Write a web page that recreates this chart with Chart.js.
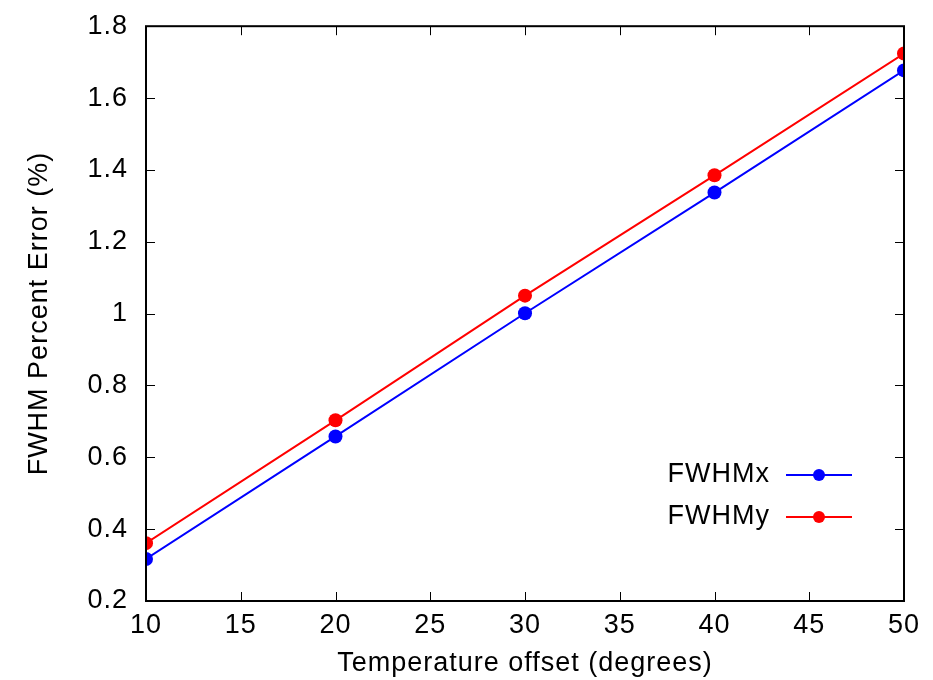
<!DOCTYPE html>
<html>
<head>
<meta charset="utf-8">
<script src="https://cdn.jsdelivr.net/npm/chart.js@4/dist/chart.umd.min.js"></script>
<style>
  html, body { margin: 0; padding: 0; background: #fff; }
  #wrap { width: 933px; height: 680px; }
</style>
</head>
<body>
<div id="wrap"><canvas id="fwhmChart" width="933" height="680"></canvas></div>
<script>
// temperature offsets and the FWHM errors measured at each one
const offsets = [10, 20, 30, 40, 50];
const fwhmX = [0.317, 0.658, 1.001, 1.337, 1.677];
const fwhmY = [0.361, 0.703, 1.050, 1.385, 1.724];
const xTicks = [10, 15, 20, 25, 30, 35, 40, 45, 50];
const yTicks = [0.2, 0.4, 0.6, 0.8, 1, 1.2, 1.4, 1.6, 1.8];

const FONT = 'Liberation Sans, Arial, sans-serif';

// slightly wider letter spacing, like the old gnuplot png fonts
const spacing = {
    id: 'spacing',
    beforeDraw(chart) { chart.ctx.letterSpacing = '1px'; }
};

// box round the plot with small inward ticks on all four sides
const frame = {
    id: 'frame',
    afterDatasetsDraw(chart) {
        const ctx = chart.ctx;
        const a = chart.chartArea;
        const xs = chart.scales.x, ys = chart.scales.y;
        const len = 9;
        ctx.save();
        ctx.strokeStyle = '#000';
        ctx.lineWidth = 1;
        ctx.beginPath();
        xTicks.forEach(v => {
            const px = Math.round(xs.getPixelForValue(v)) + 0.5;
            ctx.moveTo(px, a.bottom); ctx.lineTo(px, a.bottom - len);
            ctx.moveTo(px, a.top); ctx.lineTo(px, a.top + len);
        });
        yTicks.forEach(v => {
            const py = Math.round(ys.getPixelForValue(v)) + 0.5;
            ctx.moveTo(a.left, py); ctx.lineTo(a.left + len, py);
            ctx.moveTo(a.right, py); ctx.lineTo(a.right - len, py);
        });
        ctx.stroke();
        ctx.lineWidth = 2;
        ctx.strokeRect(a.left, a.top, a.right - a.left, a.bottom - a.top);
        ctx.restore();
    }
};

// gnuplot-like key: title on the left, line sample with marker on the right
const key = {
    id: 'key',
    afterDraw(chart) {
        const ctx = chart.ctx;
        const a = chart.chartArea;
        const textRight = a.right - 134;
        const x0 = a.right - 118, x1 = a.right - 52;
        ctx.save();
        ctx.font = '27px ' + FONT;
        ctx.textAlign = 'right';
        ctx.textBaseline = 'middle';
        chart.data.datasets.forEach((ds, i) => {
            const y = a.bottom - 126 + i * 42;
            ctx.fillStyle = '#000';
            ctx.fillText(ds.label, textRight, y);
            ctx.strokeStyle = ds.borderColor;
            ctx.lineWidth = 2;
            ctx.beginPath();
            ctx.moveTo(x0, y); ctx.lineTo(x1, y);
            ctx.stroke();
            ctx.fillStyle = ds.backgroundColor;
            ctx.beginPath();
            ctx.arc((x0 + x1) / 2, y, 6, 0, Math.PI * 2);
            ctx.fill();
        });
        ctx.restore();
    }
};

const ctx = document.getElementById('fwhmChart').getContext('2d');
new Chart(ctx, {
    type: 'line',
    data: {
        datasets: [
            {
                label: 'FWHMx',
                data: offsets.map((t, i) => ({ x: t, y: fwhmX[i] })),
                borderColor: '#0000ff',
                backgroundColor: '#0000ff',
                borderWidth: 2,
                pointRadius: 7,
                pointBorderWidth: 0,
                fill: false,
                tension: 0
            },
            {
                label: 'FWHMy',
                data: offsets.map((t, i) => ({ x: t, y: fwhmY[i] })),
                borderColor: '#ff0000',
                backgroundColor: '#ff0000',
                borderWidth: 2,
                pointRadius: 7,
                pointBorderWidth: 0,
                fill: false,
                tension: 0
            }
        ]
    },
    options: {
        responsive: false,
        animation: false,
        layout: { padding: { top: 4, right: 29, left: 0, bottom: 0 } },
        plugins: { legend: { display: false }, tooltip: { enabled: false } },
        scales: {
            x: {
                type: 'linear',
                min: 10,
                max: 50,
                afterBuildTicks: s => { s.ticks = xTicks.map(v => ({ value: v })); },
                afterFit: s => { s.height = 79; },
                grid: { display: false },
                border: { display: false },
                ticks: { color: '#000', font: { family: FONT, size: 27 }, padding: 0, maxRotation: 0 },
                title: {
                    display: true,
                    text: 'Temperature offset (degrees)',
                    color: '#000',
                    font: { family: FONT, size: 27 },
                    padding: { top: 0, bottom: 0 }
                }
            },
            y: {
                min: 0.2,
                max: 1.8,
                afterBuildTicks: s => { s.ticks = yTicks.map(v => ({ value: v })); },
                afterFit: s => { s.width = 146; },
                grid: { display: false },
                border: { display: false },
                ticks: {
                    color: '#000',
                    font: { family: FONT, size: 27 },
                    padding: 10,
                    callback: v => String(+v.toFixed(1))
                },
                title: {
                    display: true,
                    text: 'FWHM Percent Error (%)',
                    color: '#000',
                    font: { family: FONT, size: 27 },
                    padding: { top: 23, bottom: 0 }
                }
            }
        }
    },
    plugins: [spacing, frame, key]
});
</script>
</body>
</html>
